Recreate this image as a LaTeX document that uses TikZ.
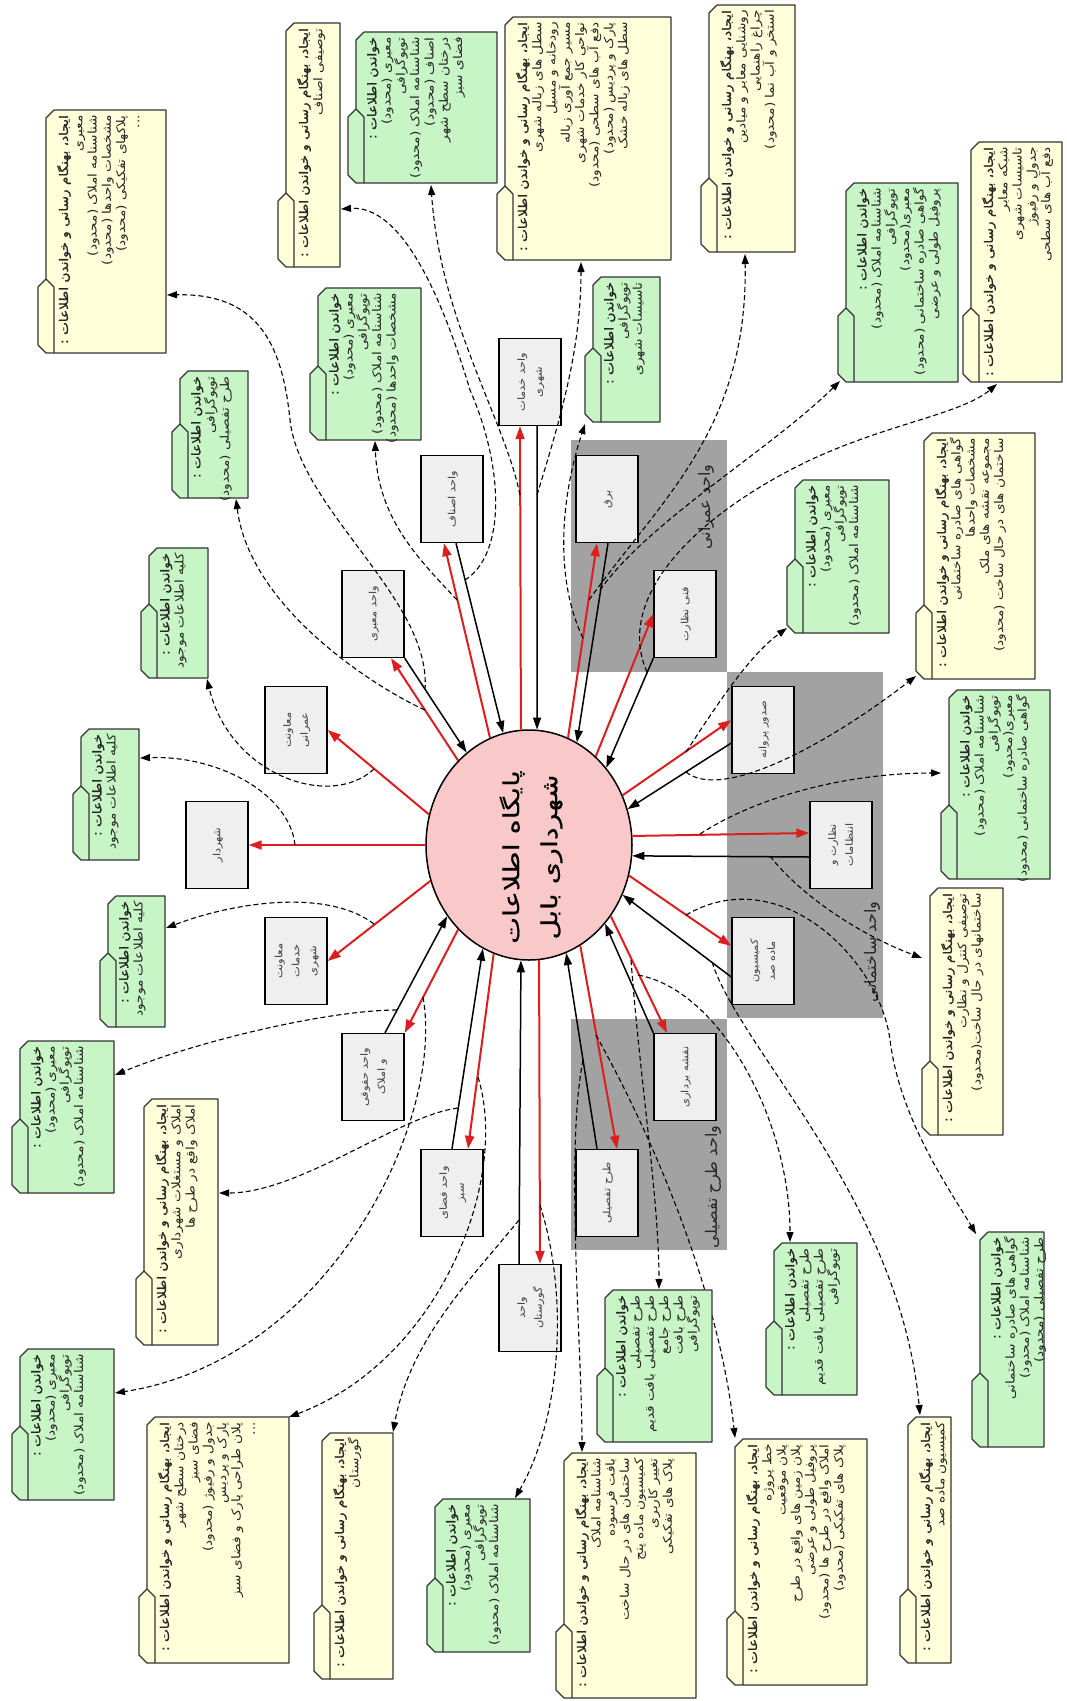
\documentclass[tikz,border=0pt]{standalone}
\usepackage{fontspec}
\usetikzlibrary{arrows.meta,calc,shapes.geometric}
\TeXXeTstate=1
\newfontfamily\fa[Script=Arabic,FakeStretch=1.14]{DejaVu Sans}
\newfontfamily\fab[Script=Arabic,FakeBold=1.2,FakeStretch=1.14]{DejaVu Sans}
\newfontfamily\faz[Script=Arabic]{DejaVu Sans}
\newfontfamily\fabig[Script=Arabic,FakeStretch=1.3,FakeBold=0.6]{DejaVu Sans}
\newcommand\R[1]{\beginR #1\endR}
\newcommand\Tl[1]{\beginR{\fab #1}\endR}
\definecolor{yelc}{HTML}{FFFFDA}
\definecolor{grnc}{HTML}{C8F5C6}
\definecolor{zonec}{HTML}{A2A2A2}
\definecolor{boxc}{HTML}{EFEFEF}
\definecolor{pinkc}{HTML}{F9C9C9}
\definecolor{redc}{HTML}{DC1E1E}
\newcommand\gl[1]{\rotatebox{90}{\begin{tabular}{@{}c@{}}#1\end{tabular}}}
\newcommand\note[7]{%
  \draw[notebd,fill=#6] (#2+8,#3+8) -- (#2+16,#3) -- (#4,#3) -- (#4,#5) -- (#2+8,#5) -- (#2,#5-8) -- (#2,#5-66) -- (#2+8,#5-74) -- cycle;
  \draw[notebd] (#2+8,#5-74) -- (#2+16,#5-66) -- (#2+16,#5);
  \node[notetext] (#1) at (#2+19,#3+5) {#7};}
\newcommand\TY{\Tl{ایجاد، بهنگام رسانی و خواندن اطلاعات :}}
\newcommand\TG{\Tl{خواندن اطلاعات :}}
\tikzset{
  notebd/.style={draw=black!80, line width=1.2pt, line join=round},
  notetext/.style={rotate=90, anchor=north east, align=right, inner sep=0pt, font=\fa\fontsize{12}{14.3}\selectfont, text=black!85},
  gbox/.style={draw=black, line width=1.4pt, fill=boxc, minimum width=62pt, minimum height=87pt, inner sep=0pt, font=\fa\fontsize{10}{17}\selectfont, text=black!75},
  redarr/.style={draw=redc, line width=2pt, -{Triangle[length=13pt,width=9pt]}},
  blkarr/.style={draw=black, line width=1.5pt, -{Triangle[length=12pt,width=8pt]}},
  dashc/.style={draw=black, line width=1.1pt, dash pattern=on 5pt off 3pt, -{Triangle[length=10pt,width=7pt]}},
  zlab/.style={rotate=90, font=\faz\fontsize{16}{18}\selectfont, text=black!85, inner sep=0pt}
}
\begin{document}
\begin{tikzpicture}[x=1pt,y=-1pt]
\useasboundingbox (0,0) rectangle (1067,1701);
\fill[white] (0,0) rectangle (1067,1701);
% zones
\fill[zonec] (571,440) rectangle (727,672);
\fill[zonec] (727,672) rectangle (883,1018);
\fill[zonec] (571,1019) rectangle (727,1250);
\node[zlab] (z1) at (706,507) {\R{واحد عمرانی}};
\node[zlab] (z2) at (872,952) {\R{واحد ساختمانی}};
\node[zlab] (z3) at (713,1187) {\R{واحد طرح تفصیلی}};
% center
\node[ellipse, draw=black, line width=1.5pt, fill=pinkc, minimum width=206pt, minimum height=230pt, inner sep=0pt] (circ) at (529,845) {};
\node[rotate=90, align=center, inner sep=0pt, font=\fabig\fontsize{22}{38}\selectfont, text=black] (ctext) at ($(circ.center)+(2,12)$) {\R{پایگاه اطلاعات}\\\R{شهرداری بابل}};
% gray boxes
\node[gbox] (b1) at (217,845) {\gl{\R{شهردار}}};
\node[gbox] (b2) at (296,730) {\gl{\R{معاونت}\\\R{عمرانی}}};
\node[gbox] (b3) at (296,961) {\gl{\R{معاونت}\\\R{خدمات}\\\R{شهری}}};
\node[gbox] (b4) at (373,614) {\gl{\R{واحد معبری}}};
\node[gbox] (b5) at (452,499) {\gl{\R{واحد اصناف}}};
\node[gbox] (b6) at (530,382) {\gl{\R{واحد خدمات}\\\R{شهری}}};
\node[gbox] (b7) at (607,499) {\gl{\R{برق}}};
\node[gbox] (b8) at (685,614) {\gl{\R{فنی نظارت}}};
\node[gbox] (b9) at (763,730) {\gl{\R{صدور پروانه}}};
\node[gbox] (b10) at (841,845) {\gl{\R{نظارت و}\\\R{انتظامات}}};
\node[gbox] (b11) at (763,961) {\gl{\R{کمیسیون}\\\R{ماده صد}}};
\node[gbox] (b12) at (685,1077) {\gl{\R{نقشه برداری}}};
\node[gbox] (b13) at (607,1193) {\gl{\R{طرح تفصیلی}}};
\node[gbox] (b14) at (530,1308) {\gl{\R{واحد}\\\R{گورستان}}};
\node[gbox] (b15) at (452,1193) {\gl{\R{واحد فضای}\\\R{سبز}}};
\node[gbox] (b16) at (373,1077) {\gl{\R{واحد حقوقی}\\\R{و املاک}}};
% red connectors (center -> unit)
\draw[redarr] (circ.180) -- (b1.east);
\draw[redarr] (circ.163.5) -- (b2.east);
\draw[redarr] (circ.-160.5) -- (b3.east);
\draw[redarr] (circ.130) -- ($(b4.south)+(18,0)$);
\draw[redarr] (circ.110) -- ($(b5.south)+(-8,0)$);
\draw[redarr] (circ.94) -- ($(b6.south)+(-10,0)$);
\draw[redarr] (circ.70) -- ($(b7.south)+(-10,0)$);
\draw[redarr] (circ.53) -- (b8.west);
\draw[redarr] (circ.28) -- ($(b9.west)+(0,-10)$);
\draw[redarr] (circ.5.5) -- ($(b10.west)+(0,-12)$);
\draw[redarr] (circ.-17) -- ($(b11.west)+(0,-15)$);
\draw[redarr] (circ.-41.5) -- ($(b12.north)+(-18,0)$);
\draw[redarr] (circ.-63) -- ($(b13.north)+(10,0)$);
\draw[redarr] (circ.-85) -- ($(b14.north)+(10,0)$);
\draw[redarr] (circ.-108) -- ($(b15.north)+(16,0)$);
\draw[redarr] (circ.-130) -- (b16.north east);
% black connectors (unit -> center)
\draw[blkarr] (b4.south east) -- (circ.124);
\draw[blkarr] ($(b5.south)+(4,0)$) -- (circ.103.6);
\draw[blkarr] ($(b6.south)+(7,0)$) -- (circ.86);
\draw[blkarr] ($(b7.south)+(1,0)$) -- (circ.65);
\draw[blkarr] (b8.south west) -- (circ.45.7);
\draw[blkarr] ($(b9.west)+(0,13)$) -- (circ.20);
\draw[blkarr] ($(b10.west)+(0,12)$) -- (circ.-6.5);
\draw[blkarr] ($(b11.west)+(0,16)$) -- (circ.-28);
\draw[blkarr] (b12.north west) -- (circ.-46.5);
\draw[blkarr] ($(b13.north)+(-10,0)$) -- (circ.-71);
\draw[blkarr] ($(b14.north)+(-11,0)$) -- (circ.-94);
\draw[blkarr] (b15.north) -- (circ.-114);
\draw[blkarr] ($(b16.north)+(12,0)$) -- (circ.-139);
% anchor points of the dashed links
\coordinate (sA) at (425,690);  \coordinate (tA) at (167,295);
\coordinate (sB) at (465,580);  \coordinate (tB) at (341,209);
\coordinate (sC) at (520,495);  \coordinate (tC) at (431,185);
\coordinate (sD) at (537,495);  \coordinate (tD) at (581,262);
\coordinate (sE) at (457,600);  \coordinate (tE) at (375,441);
\coordinate (sF) at (589,600);  \coordinate (tF) at (745,254);
\coordinate (sG) at (600,590);  \coordinate (tG) at (840,381);
\coordinate (sH) at (647,672);  \coordinate (tH) at (997,384);
\coordinate (sI) at (583,638);  \coordinate (tI) at (585,424);
\coordinate (sJ) at (425,710);  \coordinate (tJ) at (236,499);
\coordinate (sK) at (374,769);  \coordinate (tK) at (207,679);
\coordinate (sK2) at (295,845); \coordinate (tK2) at (140,758);
\coordinate (sK3) at (374,924); \coordinate (tK3) at (166,928);
\coordinate (sL) at (686,752);  \coordinate (tL) at (787,628);
\coordinate (sM) at (686,772);  \coordinate (tM) at (916,676);
\coordinate (sN) at (700,834);  \coordinate (tN) at (941,773);
\coordinate (sO) at (770,856);  \coordinate (tO) at (922,958);
\coordinate (sP) at (631,960);  \coordinate (tP) at (659,1289);
\coordinate (sQ) at (638,975);  \coordinate (tQ) at (790,1242);
\coordinate (sR) at (686,915);  \coordinate (tR) at (976,1234);
\coordinate (sS) at (583,1060); \coordinate (tS) at (582,1452);
\coordinate (sT) at (596,1035); \coordinate (tT) at (735,1438);
\coordinate (sU) at (712,962);  \coordinate (tU) at (920,1415);
\coordinate (sV) at (397,1010); \coordinate (tV) at (115,1075);
\coordinate (sW) at (458,1108); \coordinate (tW) at (219,1193);
\coordinate (sX) at (423,997);  \coordinate (tX) at (115,1393);
\coordinate (sY) at (478,1077); \coordinate (tY) at (289,1417);
\coordinate (sZ) at (519,1220); \coordinate (tZ) at (393,1432);
\coordinate (sAA) at (540,1205); \coordinate (tAA) at (515,1498);
% dashed links
\draw[dashc] (sA) .. controls (432,600) and (300,510) .. (290,420) .. controls (282,340) and (255,293) .. (tA);
\draw[dashc] (sB) .. controls (505,555) and (505,470) .. (470,390) .. controls (440,290) and (400,205) .. (tB);
\draw[dashc] (sC) .. controls (505,420) and (440,320) .. (tC);
\draw[dashc] (sD) .. controls (560,420) and (581,350) .. (tD);
\draw[dashc] (sE) .. controls (420,560) and (378,520) .. (tE);
\draw[dashc] (sF) .. controls (660,500) and (748,430) .. (tF);
\draw[dashc] (sG) .. controls (650,520) and (770,450) .. (tG);
\draw[dashc] (sH) .. controls (615,600) and (690,520) .. (800,465) .. controls (880,425) and (960,415) .. (tH);
\draw[dashc] (sI) .. controls (555,580) and (560,500) .. (tI);
\draw[dashc] (sJ) .. controls (380,690) and (250,610) .. (tJ);
\draw[dashc] (sK) .. controls (330,810) and (230,775) .. (tK);
\draw[dashc] (sK2) .. controls (290,795) and (220,755) .. (tK2);
\draw[dashc] (sK3) .. controls (330,890) and (240,900) .. (tK3);
\draw[dashc] (sL) .. controls (720,700) and (750,655) .. (tL);
\draw[dashc] (sM) .. controls (720,800) and (820,750) .. (tM);
\draw[dashc] (sN) .. controls (760,795) and (850,773) .. (tN);
\draw[dashc] (sO) .. controls (800,895) and (860,935) .. (tO);
\draw[dashc] (sP) .. controls (640,1080) and (659,1200) .. (tP);
\draw[dashc] (sQ) .. controls (720,990) and (790,1120) .. (tQ);
\draw[dashc] (sR) .. controls (780,860) and (880,960) .. (890,1040) .. controls (900,1120) and (950,1190) .. (tR);
\draw[dashc] (sS) .. controls (565,1150) and (582,1350) .. (tS);
\draw[dashc] (sT) .. controls (660,1150) and (720,1300) .. (tT);
\draw[dashc] (sU) .. controls (740,1050) and (900,1200) .. (tU);
\draw[dashc] (sV) .. controls (330,1010) and (200,1040) .. (tV);
\draw[dashc] (sW) .. controls (400,1115) and (300,1193) .. (tW);
\draw[dashc] (sX) .. controls (445,1120) and (330,1360) .. (tX);
\draw[dashc] (sY) .. controls (510,1180) and (440,1360) .. (tY);
\draw[dashc] (sZ) .. controls (470,1280) and (410,1340) .. (tZ);
\draw[dashc] (sAA) .. controls (570,1300) and (560,1420) .. (tAA);
% notes
\note{nA}{38}{110}{166}{353}{yelc}{\TY\\\R{معبری}\\\R{شناسنامه املاک (محدود)}\\\R{مشخصات واحدها (محدود)}\\\R{پلاکهای تفکیکی (محدود)}\\\R{...}}
\note{nB}{278}{23}{340}{267}{yelc}{\TY\\\R{توصیفی اصناف}}
\note{nC}{348}{32}{497}{183}{grnc}{\TG\\\R{معبری (محدود)}\\\R{توپوگرافی}\\\R{شناسنامه املاک (محدود)}\\\R{اصناف (محدود)}\\\R{درختان سطح شهر}\\\R{فضای سبز}}
\note{nD}{497}{17}{671}{260}{yelc}{\TY\\\R{سطل های زباله شهری}\\\R{رودخانه و مسیل}\\\R{مسیر جمع آوری زباله}\\\R{نواحی کار خدمات شهری}\\\R{دفع آب های سطحی (محدود)}\\\R{پارک و پردیس (محدود)}\\\R{سطل های زباله خشک}}
\note{nE}{310}{288}{421}{440}{grnc}{\TG\\\R{معبری (محدود)}\\\R{توپوگرافی}\\\R{شناسنامه املاک (محدود)}\\\R{مشخصات واحدها (محدود)}}
\note{nF}{701}{5}{795}{252}{yelc}{\TY\\\R{روشنایی معابر و میادین}\\\R{چراغ راهنمایی}\\\R{استخر و آب نما (محدود)}}
\note{nG}{838}{183}{958}{382}{grnc}{\TG\\\R{شناسنامه املاک (محدود)}\\\R{توپوگرافی}\\\R{معبری(محدود)}\\\R{گواهی صادره ساختمانی (محدود)}\\\R{پروفیل طولی و عرضی}}
\note{nH}{963}{142}{1062}{382}{yelc}{\TY\\\R{شبکه معابر}\\\R{تاسیسات شهری}\\\R{جدول و رفیوژ}\\\R{دفع آب های سطحی}}
\note{nI}{585}{277}{660}{422}{grnc}{\TG\\\R{توپوگرافی}\\\R{تاسیسات شهری}}
\note{nJ}{172}{371}{248}{498}{grnc}{\TG\\\R{توپوگرافی}\\\R{طرح تفصیلی (محدود)}}
\note{nK}{141}{548}{208}{678}{grnc}{\TG\\\R{کلیه اطلاعات موجود}}
\note{nK2}{73}{729}{139}{860}{grnc}{\TG\\\R{کلیه اطلاعات موجود}}
\note{nK3}{100}{896}{165}{1027}{grnc}{\TG\\\R{کلیه اطلاعات موجود}}
\note{nL}{787}{480}{889}{633}{grnc}{\TG\\\R{معبری (محدود)}\\\R{توپوگرافی}\\\R{شناسنامه املاک (محدود)}}
\note{nM}{916}{433}{1035}{679}{yelc}{\TY\\\R{گواهی های صادره ساختمانی}\\\R{مشخصات واحدها}\\\R{مجموعه نقشه های ملک}\\\R{ساختمان های در حال ساخت (محدود)}}
\note{nN}{941}{690}{1050}{879}{grnc}{\TG\\\R{شناسنامه املاک (محدود)}\\\R{توپوگرافی}\\\R{معبری(محدود)}\\\R{گواهی صادره ساختمانی (محدود)}}
\note{nO}{922}{888}{1003}{1135}{yelc}{\TY\\\R{توصیفی کنترل و نظارت}\\\R{ساختمانهای در حال ساخت(محدود)}}
\note{nP}{597}{1290}{712}{1442}{grnc}{\TG\\\R{طرح تفصیلی}\\\R{طرح تفصیلی بافت قدیم}\\\R{طرح جامع}\\\R{طرح بافت}\\\R{توپوگرافی}}
\note{nQ}{766}{1243}{857}{1395}{grnc}{\TG\\\R{طرح تفصیلی}\\\R{طرح تفصیلی بافت قدیم}\\\R{توپوگرافی}}
\note{nR}{972}{1232}{1044}{1447}{grnc}{\TG\\\R{گواهی های صادره ساختمانی}\\\R{شناسنامه املاک (محدود)}\\\R{طرح تفصیلی (محدود)}}
\note{nS}{556}{1453}{696}{1698}{yelc}{\TY\\\R{شناسنامه املاک}\\\R{بافت فرسوده}\\\R{ساختمان های در حال ساخت}\\\R{کمیسیون ماده پنج}\\\R{تغییر کاربری}\\\R{پلاک های تفکیکی}}
\note{nT}{727}{1439}{867}{1685}{yelc}{\TY\\\R{خط پروژه}\\\R{پلان موقعیت}\\\R{پلان زمین های واقع در طرح}\\\R{پروفیل طولی و عرضی}\\\R{املاک واقع در طرح ها (محدود)}\\\R{پلاک های تفکیکی (محدود)}}
\note{nU}{900}{1417}{951}{1663}{yelc}{\TY\\\R{کمیسیون ماده صد}}
\note{nV}{12}{1041}{114}{1193}{grnc}{\TG\\\R{معبری (محدود)}\\\R{توپوگرافی}\\\R{شناسنامه املاک (محدود)}}
\note{nW}{136}{1099}{218}{1345}{yelc}{\TY\\\R{املاک و مستغلات شهرداری}\\\R{املاک واقع در طرح ها}}
\note{nX}{12}{1349}{114}{1500}{grnc}{\TG\\\R{معبری (محدود)}\\\R{توپوگرافی}\\\R{شناسنامه املاک (محدود)}}
\note{nY}{139}{1417}{289}{1663}{yelc}{\TY\\\R{درختان سطح شهر}\\\R{فضای سبز}\\\R{جدول و رفیوژ (محدود)}\\\R{پارک و پردیس}\\\R{پلان طراحی پارک و فضای سبز}\\\R{...}}
\note{nZ}{314}{1433}{393}{1679}{yelc}{\TY\\\R{گورستان}}
\note{nAA}{427}{1499}{530}{1652}{grnc}{\TG\\\R{معبری (محدود)}\\\R{توپوگرافی}\\\R{شناسنامه املاک (محدود)}}
\end{tikzpicture}
\end{document}
